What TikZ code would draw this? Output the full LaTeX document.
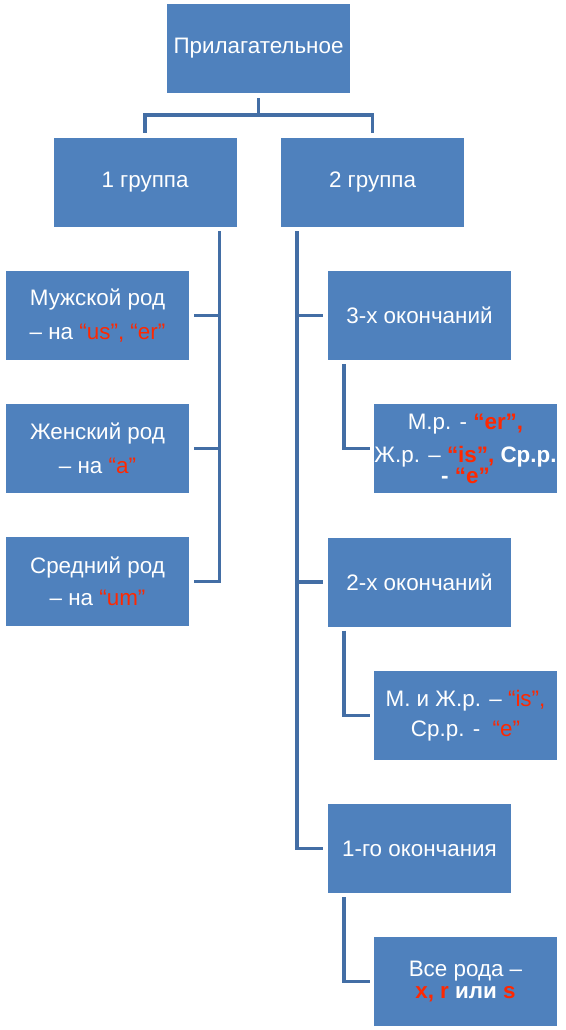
\documentclass[tikz,border=0pt]{standalone}
\usepackage{fontspec}
\setmainfont{Liberation Sans}
\usetikzlibrary{calc}
\definecolor{boxblue}{RGB}{79,129,189}
\definecolor{lineblue}{RGB}{67,110,165}
\definecolor{hred}{RGB}{255,40,0}
\newcommand{\rd}[1]{\textcolor{hred}{#1}}
\tikzset{
  box/.style={fill=boxblue, minimum width=183pt, minimum height=89pt, inner sep=0pt,
    align=center, text=white, font=\fontsize{22.4}{25}\selectfont},
  conn/.style={draw=lineblue, line width=3.5pt}
}
\begin{document}
\begin{tikzpicture}[x=1pt,y=-1pt]
\useasboundingbox (0,0) rectangle (565,1030);
\node[box] (top) at (258.5,48.5) {Прилагательное};
\node[box] (g1) at (145,182.5) {1 группа};
\node[box] (g2) at (372.5,182.5) {2 группа};
\node[box] (m1) at (97.5,315.5) {Мужской род\\[9pt]– на \rd{“us”, “er”}};
\node[box] (m2) at (97.5,448.5) {Женский род\\[9pt]– на \rd{“a”}};
\node[box] (m3) at (97.5,581.5) {Средний род\\[7pt]– на \rd{“um”}};
\node[box] (e3) at (419.5,315.5) {3-х окончаний};
\node[box] (t3) at (465.5,448.5) {М.р. - \textbf{\rd{“er”,}}\\[8pt]Ж.р. – \textbf{\rd{“is”,} Ср.р.}\\[-4pt]\textbf{- \rd{“e”}}};
\node[box] (e2) at (419.5,582) {2-х окончаний};
\node[box] (t2) at (465.5,715.5) {М. и Ж.р. – \rd{“is”,}\\[5pt]Ср.р. - \ \rd{“e”}};
\node[box] (e1) at (419.5,848.5) {1-го окончания};
\node[box] (t1) at (465.5,981.5) {Все рода –\\[-3pt]\textbf{\rd{x, r} или \rd{s}}};
\coordinate (tb) at (258.5,115);
\draw[conn] ($(top.south)+(0,5)$) -- (tb);
\draw[conn] ($(g1.north)+(0,-5)$) |- (tb) -| ($(g2.north)+(0,-5)$);
\foreach \c in {m1,m2,m3}
  \draw[conn] ($(g1.south east)+(-17,4)$) |- ($(\c.east)+(5,0)$);
\foreach \c in {e3,e2,e1}
  \draw[conn] ($(g2.south west)+(16,4)$) |- ($(\c.west)+(-5,0)$);
\draw[conn] ($(e3.south west)+(16,4)$) |- ($(t3.west)+(-4,0)$);
\draw[conn] ($(e2.south west)+(16,4)$) |- ($(t2.west)+(-4,0)$);
\draw[conn] ($(e1.south west)+(16,4)$) |- ($(t1.west)+(-4,0)$);
\end{tikzpicture}
\end{document}
